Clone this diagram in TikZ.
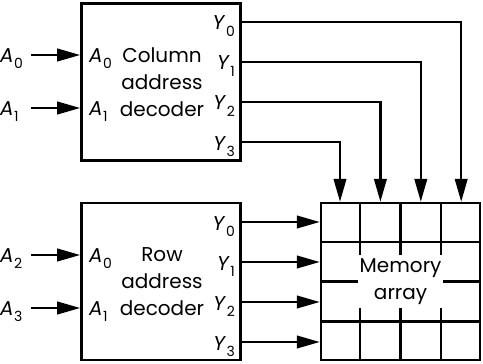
\documentclass[tikz,border=0pt]{standalone}
\usepackage{fontspec}
\setmainfont{Poppins}
\usetikzlibrary{arrows.meta,calc,positioning}
\newcommand\io[2]{\textit{#1}\kern.5pt\raisebox{-6.5pt}{\fontsize{14}{14}\selectfont#2}}
\begin{document}
\begin{tikzpicture}[x=1pt, y=-1pt,
  font=\fontsize{20}{27}\selectfont,
  >={Triangle[length=23pt,width=12.5pt]},
  box/.style={draw, line width=2.6pt, minimum width=159pt, minimum height=157pt, inner sep=0pt},
  sig/.style={inner sep=0pt},
  wire/.style={->, line width=2.4pt},
  grid/.style={line width=2.4pt},
  node distance=40pt and 78pt
]
\useasboundingbox (0,0) rectangle (483,364);
\node[box] (coldec) at (161,82) {};
\node[box, below=of coldec] (rowdec) {};
\node[box, right=of rowdec] (mem) {};
\node[align=center] (coltxt) at (162,82) {Column\\address\\decoder};
\node[align=center] (rowtxt) at (162,282) {Row\\address\\decoder};
\foreach \i/\y in {0/55,1/108} {
  \coordinate (cin\i) at (31,\y);
  \node[sig, anchor=base west] (ca\i) at (0,\y+7) {\io{A}{\i}};
  \node[sig, anchor=base west] (cb\i) at (89,\y+7) {\io{A}{\i}};
  \draw[wire] (cin\i) -- (coldec.west |- cin\i);
}
\foreach \i/\j/\y in {0/2/255,1/3/308} {
  \coordinate (rin\i) at (31,\y);
  \node[sig, anchor=base west] (ra\i) at (0,\y+7) {\io{A}{\j}};
  \node[sig, anchor=base west] (rb\i) at (89,\y+7) {\io{A}{\i}};
  \draw[wire] (rin\i) -- (rowdec.west |- rin\i);
}
\foreach \f in {0.25,0.5,0.75} {
  \draw[grid] ($(mem.north west)!\f!(mem.north east)$) -- ($(mem.south west)!\f!(mem.south east)$);
  \draw[grid] ($(mem.north west)!\f!(mem.south west)$) -- ($(mem.north east)!\f!(mem.south east)$);
}
\node[fill=white, minimum width=85pt, minimum height=53pt, inner sep=0pt, align=center] (memtxt) at (mem) {Memory\\array};
\foreach \i/\y in {0/22,1/62,2/102,3/142} {
  \node[sig, anchor=base east] (cy\i) at (235,\y+8) {\io{Y}{\i}};
  \draw[wire] (coldec.east |- 0,\y) -| ($(mem.north west)!{(3.5-\i)/4}!(mem.north east)$);
}
\foreach \i/\y in {0/222,1/262,2/302,3/342} {
  \node[sig, anchor=base east] (ry\i) at (235,\y+8) {\io{Y}{\i}};
  \draw[wire] (rowdec.east |- 0,\y) -- (mem.west |- 0,\y);
}
\end{tikzpicture}
\end{document}
